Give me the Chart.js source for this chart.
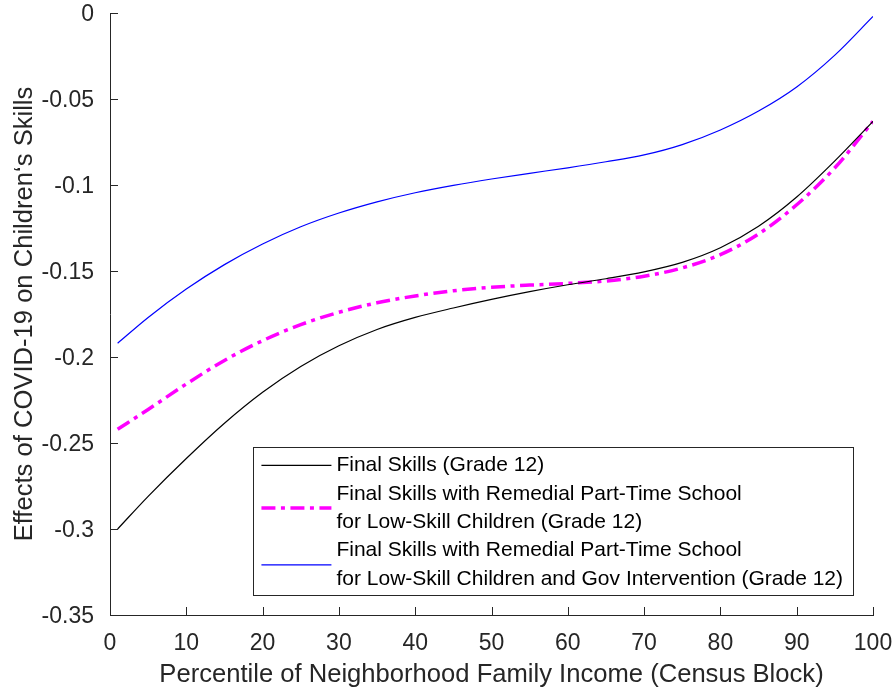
<!DOCTYPE html>
<html>
<head>
<meta charset="utf-8">
<script src="https://cdn.jsdelivr.net/npm/chart.js@4.4.0/dist/chart.umd.min.js"></script>
<style>
  body { margin: 0; background: #fff; }
  #wrap { width: 895px; height: 691px; position: relative; }
</style>
</head>
<body>
<div id="wrap"><canvas id="covidSkills"></canvas></div>
<script>
// percentiles of neighborhood income (x)
var percentil = [1, 5, 10, 15, 20, 25, 30, 35, 40, 45, 50, 55, 60, 65, 70, 75, 80, 85, 90, 95, 100];

// Final Skills (Grade 12)
var finalSkills = [-0.300, -0.281, -0.259, -0.2385, -0.2205, -0.2055, -0.1935, -0.184, -0.177, -0.1715, -0.1665,
                   -0.162, -0.158, -0.1545, -0.1505, -0.145, -0.1365, -0.124, -0.107, -0.086, -0.063];

// with remedial school
var remedialSkills = [-0.242, -0.2305, -0.2157, -0.202, -0.1905, -0.1812, -0.174, -0.1685, -0.1645, -0.1615, -0.1595,
                      -0.1582, -0.1572, -0.1558, -0.153, -0.1482, -0.1405, -0.1285, -0.1115, -0.090, -0.063];

// with remedial school + gov intervention
var govSkills = [-0.192, -0.177, -0.1605, -0.1463, -0.1343, -0.1243, -0.1163, -0.1098, -0.1045, -0.1002, -0.0965,
                 -0.0932, -0.090, -0.0865, -0.0825, -0.0765, -0.068, -0.057, -0.043, -0.0245, -0.002];

var xTicks = [0, 10, 20, 30, 40, 50, 60, 70, 80, 90, 100];
var yTicks = [-0.35, -0.3, -0.25, -0.2, -0.15, -0.1, -0.05, 0];

var nomes = [
    'Final Skills (Grade 12)',
    'Final Skills with Remedial Part-Time School\nfor Low-Skill Children (Grade 12)',
    'Final Skills with Remedial Part-Time School\nfor Low-Skill Children and Gov Intervention (Grade 12)'
];

var fonte = '"Liberation Sans", Arial, Helvetica, sans-serif';
var cinza = '#262626';

function pontos(valores) {
    return percentil.map(function (p, i) { return { x: p, y: valores[i] }; });
}

// sem padding extra dos labels, a area fica fixa pelo layout
function semPadding(s) {
    s.paddingTop = 0;
    s.paddingBottom = 0;
    s.paddingLeft = 0;
    s.paddingRight = 0;
}

// ticks para dentro, estilo matlab
var ticksDentro = {
    id: 'ticksDentro',
    afterDraw: function (chart) {
        var ctx = chart.ctx, area = chart.chartArea;
        var sx = chart.scales.x, sy = chart.scales.y;
        ctx.save();
        ctx.strokeStyle = cinza;
        ctx.lineWidth = 1;
        ctx.beginPath();
        sy.ticks.forEach(function (t) {
            var py = Math.round(sy.getPixelForValue(t.value)) + 0.5;
            ctx.moveTo(area.left, py);
            ctx.lineTo(area.left + 8, py);
        });
        sx.ticks.forEach(function (t) {
            var px = Math.round(sx.getPixelForValue(t.value)) + 0.5;
            ctx.moveTo(px, area.bottom);
            ctx.lineTo(px, area.bottom - 8);
        });
        ctx.stroke();
        ctx.restore();
    }
};

// legenda com quebra de linha
var legendaCaixa = {
    id: 'legendaCaixa',
    afterDraw: function (chart) {
        var ctx = chart.ctx, area = chart.chartArea;
        var lineH = 28.4, amostra = 70;
        ctx.save();
        ctx.font = '21px ' + fonte;
        var linhas = chart.data.datasets.map(function (ds) { return ds.label.split('\n'); });
        var textW = 0, n = 0;
        linhas.forEach(function (l) {
            l.forEach(function (t) { textW = Math.max(textW, ctx.measureText(t).width); n++; });
        });
        var w = 8 + amostra + 5 + textW + 10;
        var h = 18.8 + (n - 1) * lineH + 16;
        var right = area.right - 20, bottom = area.bottom - 20;
        var left = right - w, top = bottom - h;

        ctx.fillStyle = '#fff';
        ctx.fillRect(left, top, w, h);
        ctx.strokeStyle = cinza;
        ctx.lineWidth = 1;
        ctx.strokeRect(Math.round(left) + 0.5, Math.round(top) + 0.5, Math.round(w), Math.round(h));

        var y = top + 18.8;
        chart.data.datasets.forEach(function (ds, i) {
            var l = linhas[i];
            var meio = y + (l.length - 1) * lineH / 2;
            ctx.beginPath();
            ctx.setLineDash(ds.borderDash || []);
            ctx.strokeStyle = ds.borderColor;
            ctx.lineWidth = ds.borderWidth;
            ctx.moveTo(left + 8, meio);
            ctx.lineTo(left + 8 + amostra, meio);
            ctx.stroke();
            ctx.setLineDash([]);
            ctx.fillStyle = '#000';
            ctx.textAlign = 'left';
            ctx.textBaseline = 'middle';
            l.forEach(function (t, k) {
                ctx.fillText(t, left + 8 + amostra + 5, y + k * lineH);
            });
            y += l.length * lineH;
        });
        ctx.restore();
    }
};

var ctx = document.getElementById('covidSkills').getContext('2d');
var chart = new Chart(ctx, {
    type: 'line',
    data: {
        datasets: [{
            label: nomes[0],
            data: pontos(finalSkills),
            borderColor: '#000000',
            borderWidth: 1.2,
            pointRadius: 0,
            cubicInterpolationMode: 'monotone'
        }, {
            label: nomes[1],
            data: pontos(remedialSkills),
            borderColor: '#ff00ff',
            borderWidth: 3.5,
            borderDash: [14, 5.5, 4, 5.5],
            pointRadius: 0,
            cubicInterpolationMode: 'monotone'
        }, {
            label: nomes[2],
            data: pontos(govSkills),
            borderColor: '#0000ff',
            borderWidth: 1.2,
            pointRadius: 0,
            cubicInterpolationMode: 'monotone'
        }]
    },
    options: {
        responsive: true,
        maintainAspectRatio: false,
        animation: false,
        layout: { padding: { top: 13, right: 22, left: 0, bottom: 0 } },
        plugins: {
            legend: { display: false },
            tooltip: { enabled: false }
        },
        scales: {
            x: {
                type: 'linear',
                min: 0,
                max: 100,
                grid: { display: false },
                border: { display: true, color: cinza, width: 1 },
                afterBuildTicks: function (s) { s.ticks = xTicks.map(function (v) { return { value: v }; }); },
                afterFit: function (s) { s.height = 76; semPadding(s); },
                ticks: {
                    color: cinza,
                    padding: 7,
                    maxRotation: 0,
                    font: { family: fonte, size: 23 }
                },
                title: {
                    display: true,
                    text: 'Percentile of Neighborhood Family Income (Census Block)',
                    color: cinza,
                    padding: { top: 0, bottom: 1 },
                    font: { family: fonte, size: 25.6 }
                }
            },
            y: {
                type: 'linear',
                min: -0.35,
                max: 0,
                grid: { display: false },
                border: { display: true, color: cinza, width: 1 },
                afterBuildTicks: function (s) { s.ticks = yTicks.map(function (v) { return { value: v }; }); },
                afterFit: function (s) { s.width = 110; semPadding(s); },
                ticks: {
                    color: cinza,
                    padding: 8,
                    labelOffset: 2,
                    font: { family: fonte, size: 23, lineHeight: 1 },
                    callback: function (v) { return parseFloat(Number(v).toFixed(2)).toString(); }
                },
                title: {
                    display: true,
                    text: 'Effects of COVID-19 on Children\u2018s Skills',
                    color: cinza,
                    padding: { top: 10, bottom: 0 },
                    font: { family: fonte, size: 25.6 }
                }
            }
        }
    },
    plugins: [ticksDentro, legendaCaixa]
});
</script>
</body>
</html>
